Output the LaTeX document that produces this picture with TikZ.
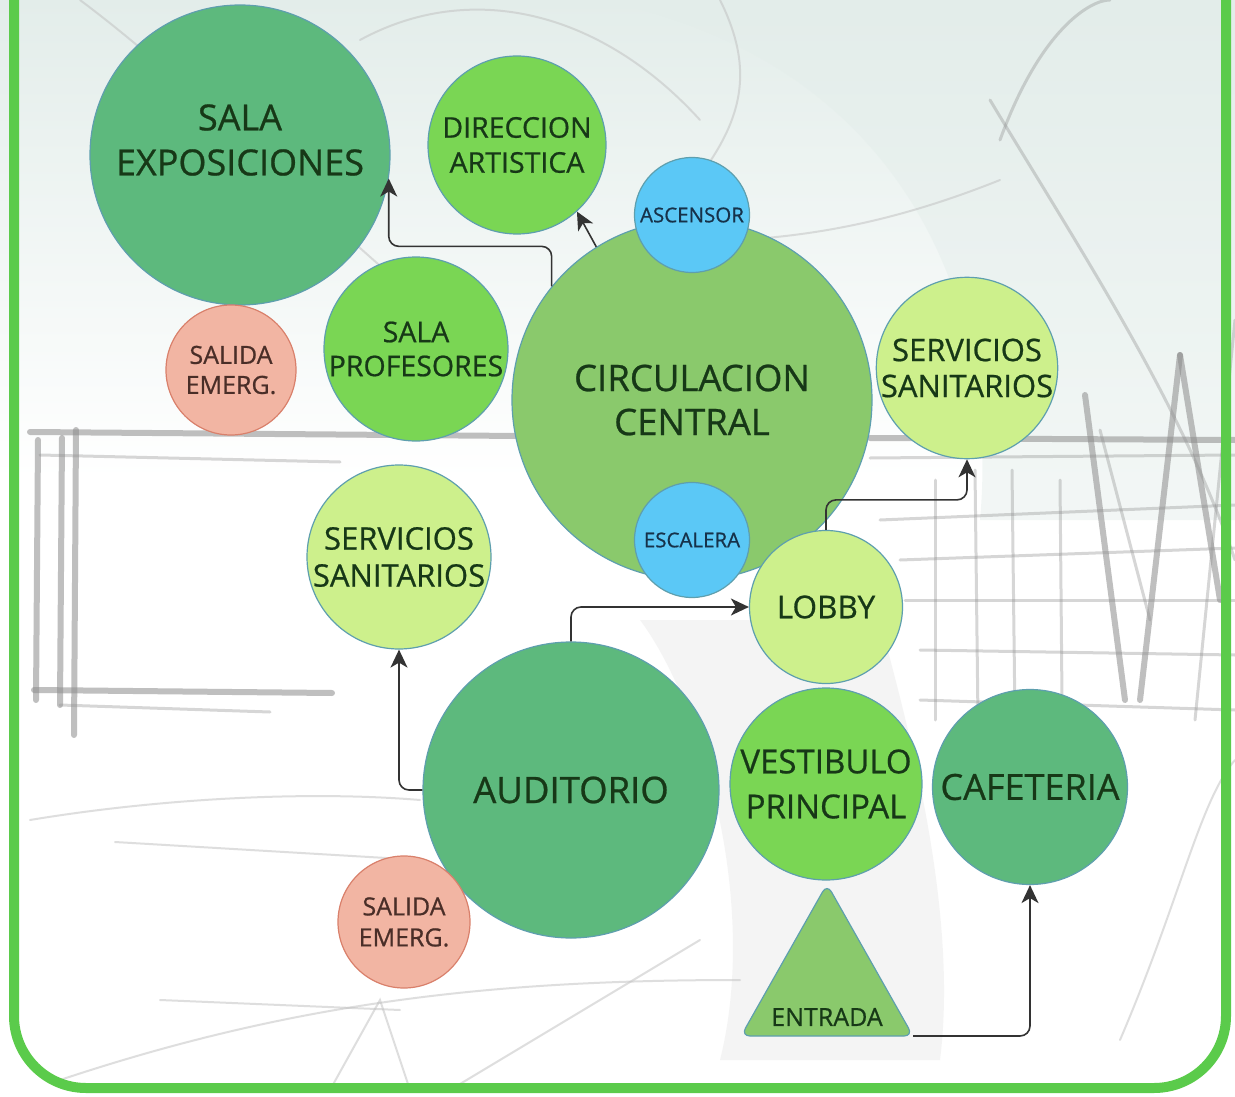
\documentclass[tikz,border=0pt]{standalone}
\usepackage{fontspec}
\setmainfont{Open Sans}[FakeBold=0.7]
\usetikzlibrary{arrows.meta}
\definecolor{midg}{HTML}{5DB97D}
\definecolor{brig}{HTML}{7AD654}
\definecolor{circg}{HTML}{8AC96C}
\definecolor{lightg}{HTML}{CDF08C}
\definecolor{bluec}{HTML}{5BC8F6}
\definecolor{salm}{HTML}{F2B5A3}
\definecolor{salmb}{HTML}{D9806B}
\definecolor{bord}{HTML}{5E9FAE}
\definecolor{txt}{HTML}{173817}
\definecolor{salt}{HTML}{4A2E28}
\definecolor{bluet}{HTML}{16324A}
\definecolor{frameg}{HTML}{5BCB4B}
\definecolor{sketch}{HTML}{8C8C8C}
\definecolor{bgtop}{HTML}{E3EDEA}
\tikzset{
  room/.style={circle, draw=bord, line width=1.2pt, inner sep=0pt, align=center, text=txt},
  exitroom/.style={room, draw=salmb, fill=salm, text=salt},
  lift/.style={room, fill=bluec, text=bluet, minimum size=115pt, font=\fontsize{20.5}{24}\selectfont},
  lbl/.style={align=center, text=txt, inner sep=0pt},
  conn/.style={draw=black!80, line width=1.6pt, rounded corners=10pt, -{Stealth[length=18pt,width=17pt,inset=5pt]}},
  skA/.style={draw=sketch, line width=6pt, opacity=0.55, line cap=round},
  skB/.style={draw=sketch, line width=3pt, opacity=0.35, line cap=round},
  skC/.style={draw=black!25, line width=2pt, opacity=0.5, line cap=round},
}
\begin{document}
\begin{tikzpicture}[x=1pt,y=-1pt]
\useasboundingbox (0,0) rectangle (1235,1097);
\clip (0,0) rectangle (1235,1097);
\fill[white] (0,0) rectangle (1235,1097);
% soft background
\shade[top color=bgtop, bottom color=white] (0,0) rectangle (1235,480);
\fill[bgtop, opacity=0.45] (600,0) .. controls (900,60) and (1000,300) .. (980,520) -- (1235,520) -- (1235,0) -- cycle;
\fill[black!5, opacity=0.8] (640,620) .. controls (700,700) and (760,900) .. (720,1060) -- (940,1060) .. controls (960,900) and (900,700) .. (880,620) -- cycle;
% sketch strokes (background)
\draw[skC] (80,0) .. controls (200,90) and (300,200) .. (420,300);
\draw[skC] (360,40) .. controls (470,-20) and (600,10) .. (700,120);
\draw[skC] (560,330) .. controls (700,180) and (780,120) .. (720,0);
\draw[skC] (740,240) .. controls (820,235) and (900,220) .. (1000,180);
\draw[skB] (990,100) .. controls (1080,250) and (1180,400) .. (1235,560);
\draw[skB] (1000,140) .. controls (1040,30) and (1090,0) .. (1110,0);
\draw[skA] (1085,395) -- (1125,700);
\draw[skA] (1180,355) -- (1140,700);
\draw[skA] (1180,355) -- (1220,600);
\draw[skB] (1235,320) -- (1195,720);
\draw[skB] (1100,430) -- (1150,620);
\draw[skA] (30,432) -- (520,436);
\draw[skA] (870,438) -- (1235,440);
\draw[skB] (40,455) -- (340,462);
\draw[skB] (870,458) -- (1235,455);
\draw[skA] (38,440) -- (36,700);
\draw[skA] (62,438) -- (60,705);
\draw[skA] (76,430) -- (74,735);
\draw[skA] (34,690) -- (332,693);
\draw[skB] (60,705) -- (270,712);
\draw[skB] (880,520) -- (1235,505);
\draw[skB] (900,560) -- (1235,548);
\draw[skB] (905,600) -- (1235,600);
\draw[skB] (920,650) -- (1235,655);
\draw[skB] (920,700) -- (1235,710);
\draw[skB] (935,480) -- (935,720);
\draw[skB] (975,470) -- (978,720);
\draw[skB] (1012,470) -- (1015,720);
\draw[skB] (1060,480) -- (1062,700);
\draw[skC] (30,820) .. controls (150,800) and (300,790) .. (420,800);
\draw[skC] (115,842) -- (420,860);
\draw[skC] (160,1000) -- (400,1010);
\draw[skC] (60,1080) .. controls (300,1000) and (500,980) .. (740,980);
\draw[skC] (330,1090) -- (380,1000) -- (410,1090);
\draw[skC] (450,1090) -- (700,940);
\draw[skC] (1120,1040) .. controls (1180,900) and (1200,800) .. (1235,760);
% frame
\draw[frameg, line width=10pt, rounded corners=72pt] (14,-80) -- (14,1088) -- (1226,1088) -- (1226,-80);
% rooms
\node[room, fill=midg, minimum size=300pt] (expo) at (240,155) {};
\node[lbl, font=\fontsize{36}{45}\selectfont] (expot) at (240,140) {SALA\\EXPOSICIONES};
\node[room, fill=brig, minimum size=178pt, font=\fontsize{28.5}{35}\selectfont] (dir) at (517,145) {DIRECCION\\ARTISTICA};
\node[room, fill=circg, minimum size=360pt, font=\fontsize{36.5}{44}\selectfont] (circ) at (692,400) {CIRCULACION\\CENTRAL};
\node[lift] (asc) at (692,215) {ASCENSOR};
\node[lift] (esc) at (692,540) {ESCALERA};
\node[room, fill=brig, minimum size=184pt, font=\fontsize{28.5}{34}\selectfont] (prof) at (416,349) {SALA\\PROFESORES};
\node[exitroom, minimum size=130pt, font=\fontsize{25}{30}\selectfont] (sal1) at (231,370) {SALIDA\\EMERG.};
\node[room, fill=lightg, minimum size=180pt, font=\fontsize{31}{36}\selectfont] (servR) at (967,368) {SERVICIOS\\SANITARIOS};
\node[room, fill=lightg, minimum size=184pt, font=\fontsize{31}{37}\selectfont] (servL) at (399,557) {SERVICIOS\\SANITARIOS};
\node[room, fill=lightg, minimum size=153pt, font=\fontsize{31.5}{36}\selectfont] (lobby) at (826,607) {LOBBY};
\node[room, fill=midg, minimum size=296pt, font=\fontsize{36.5}{42}\selectfont] (aud) at (571,790) {AUDITORIO};
\node[room, fill=brig, minimum size=192pt, font=\fontsize{33}{45}\selectfont] (vest) at (826,784) {VESTIBULO\\PRINCIPAL};
\node[room, fill=midg, minimum size=195pt, font=\fontsize{36}{42}\selectfont] (caf) at (1030,787) {CAFETERIA};
\node[exitroom, minimum size=132pt, font=\fontsize{25}{31}\selectfont] (sal2) at (404,922) {SALIDA\\EMERG.};
% entrance triangle
\coordinate (eA) at (827,884);
\coordinate (eR) at (913,1036);
\coordinate (eL) at (741,1036);
\draw[draw=bord, line width=1.2pt, fill=circg, rounded corners=9pt] (eA) -- (eR) -- (eL) -- cycle;
\node[lbl, font=\fontsize{25}{30}\selectfont] (entr) at (827,1017) {ENTRADA};
% connectors
\draw[conn] (circ.141) -- ++(0,-40) -| (expo.-9);
\draw[conn] (circ.122) -- (dir.-48);
\draw[conn] (lobby.north) -- ++(0,-30) -| (servR.south);
\draw[conn] (aud.north) |- (lobby.west);
\draw[conn] (aud.west) -| (servL.south);
\draw[conn] (eR) -| (caf.south);
\end{tikzpicture}
\end{document}
